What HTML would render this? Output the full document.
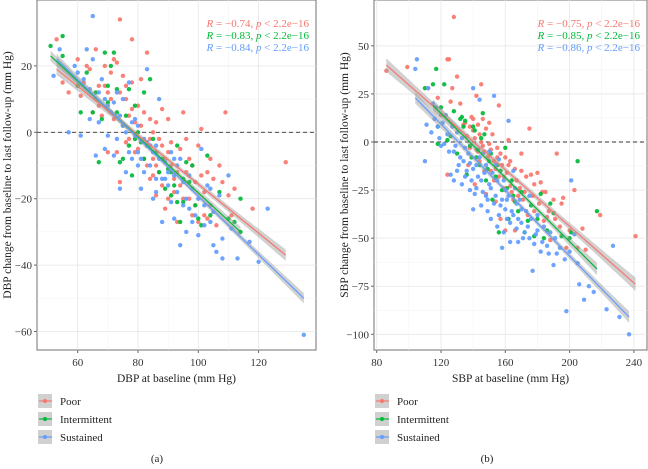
<!DOCTYPE html>
<html><head><meta charset="utf-8"><style>
body{margin:0;background:#fff;width:648px;height:464px;overflow:hidden;font-family:"Liberation Serif",serif}
</style></head><body>
<svg id="s" width="648" height="464" font-family="Liberation Serif, serif"></svg>
<script>
const colors=["#F8766D","#00BA38","#619CFF"];
const groups=["Poor","Intermittent","Sustained"];
const leftTicksX=[60,80,100,120];
const leftTicksY=[20,0,-20,-40,-60];
const rightTicksX=[80,120,160,200,240];
const rightTicksY=[50,25,0,-25,-50,-75,-100];
const leftR=["−0.74","−0.83","−0.84"];
const rightR=["−0.75","−0.85","−0.86"];
const leftLines=[[53,19,129,-37],[51,23,114,-30],[53,22,135,-50]];
const rightLines=[[86,40,241,-74],[115,19,217,-66],[104,23,237,-91]];
const leftPoor=[[53,28],[55,15],[57,12],[60,22],[61,11],[63,20],[64,19],[66,25],[67,14],[68,5],[69,20],[70,-6],[71,10],[72,22],[73,21],[74,34],[74,-15],[75,17],[76,10],[77,5],[78,28],[78,15],[79,3],[80,-5],[81,16],[82,6],[83,24],[84,-2],[85,-8],[86,-19],[86,3],[87,-12],[88,7],[89,-23],[90,4],[91,-10],[92,-14],[93,-27],[94,-5],[95,6],[95,-20],[97,-8],[98,-25],[99,-15],[100,-4],[101,1],[102,-18],[103,-12],[104,-22],[106,-28],[107,-10],[109,6],[110,-19],[111,-25],[112,-17],[118,-23],[129,-9],[76,-3],[83,-10],[88,-4],[92,-18],[96,-12],[70,12],[65,6],[100,-27],[105,-14],[62,15],[67,8],[72,4],[77,-2],[80,8],[85,-13],[90,-6],[97,-20],[74,12],[76,14],[78,7],[79,-6],[81,2],[82,-8],[84,4],[85,0],[86,-10],[87,-2],[88,-16],[89,-8],[90,-20],[91,-3],[93,-12],[94,-16],[96,-2],[98,-10],[99,-22],[101,-13],[102,-25],[103,-26],[104,-8],[108,-15],[73,-6],[71,18],[69,14],[66,10],[84,-14]];
const leftInt=[[51,26],[55,29],[55,23],[60,14],[61,6],[63,18],[65,6],[67,-9],[68,4],[69,24],[70,14],[71,20],[72,24],[73,13],[74,-9],[75,-8],[76,5],[77,13],[78,-13],[79,8],[80,0],[81,-3],[82,12],[83,-4],[84,16],[86,-6],[87,-12],[89,-17],[90,-11],[91,-19],[92,-16],[93,-4],[94,-27],[95,-21],[96,-9],[97,-15],[98,-10],[100,-26],[101,-28],[103,-7],[104,-25],[107,-18],[110,-26],[112,-27],[114,-20],[114,-30],[85,-2],[88,-8],[73,6],[75,2],[77,-4],[79,-2],[82,-8],[91,-12],[93,-21],[95,-14],[99,-22],[70,9],[66,12]];
const leftSus=[[52,17],[54,25],[57,0],[59,20],[61,-1],[62,16],[63,25],[64,4],[65,35],[65,22],[66,-7],[67,12],[68,16],[69,-5],[70,-1],[71,6],[72,-7],[73,-2],[74,-17],[75,10],[76,-12],[77,15],[78,3],[79,-1],[80,-6],[81,-17],[82,-2],[83,19],[84,-10],[85,-20],[86,-14],[87,10],[88,-27],[89,-9],[90,-12],[91,-21],[92,-26],[93,-18],[94,-34],[95,-15],[96,-30],[97,-23],[98,-17],[99,-25],[100,-31],[101,-5],[102,-22],[103,-16],[104,-27],[105,-34],[106,-36],[107,-19],[108,-38],[108,-32],[110,-13],[111,-29],[113,-38],[117,-33],[120,-39],[123,-23],[135,-61],[60,18],[72,9],[78,-8],[82,-12],[86,-4],[90,-16],[94,-8],[70,8],[75,2],[80,-10],[84,-4],[88,-14],[92,-8],[96,-20],[73,12],[74,5],[76,0],[77,-6],[79,4],[81,-8],[83,-3],[85,-6],[86,-18],[87,-8],[89,-14],[91,-6],[92,-13],[93,-10],[95,-22],[97,-13],[98,-27],[100,-20],[102,-28],[104,-17],[105,-24],[69,10],[67,3],[64,13],[80,2]];
const rightPoor=[[86,37],[99,39],[112,28],[118,23],[120,14],[124,-17],[124,43],[125,43],[126,21],[127,28],[128,65],[130,34],[132,20],[134,9],[136,3],[138,-3],[140,6],[141,-22],[142,24],[144,-10],[145,30],[146,12],[147,-5],[148,-27],[150,-1],[151,-15],[152,4],[153,-20],[154,-31],[155,-8],[156,19],[157,-40],[158,-12],[159,-18],[160,-46],[162,1],[163,-23],[165,-30],[166,-46],[168,-28],[170,-15],[172,-26],[174,-38],[175,7],[176,-17],[178,-36],[180,-16],[182,-21],[184,-41],[186,-39],[188,-51],[190,-30],[192,-6],[194,-44],[196,-29],[198,-55],[203,-25],[205,-55],[208,-45],[210,-56],[219,-38],[241,-49],[135,10],[143,-5],[150,10],[160,-8],[167,-20],[185,-26],[140,12],[145,0],[155,-3],[162,-12],[170,-6],[178,-22],[138,8],[139,13],[141,2],[142,-4],[143,9],[144,4],[146,-2],[148,7],[149,-8],[151,-4],[153,-10],[154,-14],[156,-18],[157,-6],[159,-24],[161,-16],[163,-10],[164,-26],[166,-14],[169,-24],[171,-30],[173,-18],[177,-28],[181,-32],[183,-26],[187,-36],[191,-40],[195,-32],[200,-46],[137,-12],[147,-15]];
const rightInt=[[110,28],[115,30],[117,38],[118,-1],[118,8],[120,18],[122,30],[124,1],[126,3],[128,16],[130,-6],[132,12],[134,8],[136,-17],[138,-2],[140,8],[142,-8],[144,-12],[146,15],[147,4],[148,-20],[150,-10],[152,-30],[154,-18],[156,-47],[158,-25],[160,-3],[162,-40],[164,-20],[166,-31],[168,-36],[170,-26],[172,-47],[174,-41],[176,-33],[178,-49],[180,-40],[182,-27],[184,-50],[186,-46],[188,-32],[190,-37],[195,-49],[200,-50],[201,-47],[205,-10],[217,-36],[145,2],[155,-12],[133,13],[135,11],[139,-8],[141,6],[143,-4],[149,-14],[151,-6],[157,-15],[161,-24],[165,-28]];
const rightSus=[[104,38],[105,43],[110,-10],[111,9],[112,28],[114,5],[116,12],[117,18],[119,2],[120,-2],[122,-1],[123,14],[125,-5],[126,-17],[128,-20],[130,5],[132,-8],[133,-22],[135,-3],[136,-15],[138,-11],[140,28],[141,-27],[143,-18],[144,22],[145,-33],[146,-6],[148,-12],[149,-36],[150,-22],[151,-40],[152,-16],[153,24],[154,-28],[155,-44],[156,-9],[157,-33],[158,-55],[159,-47],[160,-25],[161,-40],[162,11],[163,-52],[164,-36],[166,-24],[167,-45],[168,-52],[169,-30],[170,-42],[172,-47],[173,-36],[175,-50],[177,-67],[178,-53],[180,-46],[182,-57],[184,-44],[186,-54],[188,-47],[190,-64],[192,-58],[194,-55],[197,-61],[198,-88],[200,-57],[201,-20],[203,-48],[205,-63],[209,-82],[212,-75],[215,-78],[223,-87],[227,-54],[231,-91],[237,-100],[206,-74],[130,-15],[138,-25],[145,-20],[150,-5],[165,-15],[175,-28],[140,-35],[160,-35],[128,-5],[134,-10],[142,-12],[148,-28],[155,-20],[162,-28],[170,-35],[180,-38],[124,4],[127,8],[129,-2],[131,-12],[133,2],[135,-18],[137,-6],[139,-20],[140,-14],[142,-24],[144,-8],[146,-26],[147,-16],[149,-30],[151,-24],[153,-32],[154,-12],[156,-38],[158,-30],[159,-20],[161,-30],[163,-42],[165,-38],[167,-32],[168,-40],[171,-50],[174,-44],[176,-40],[179,-48],[183,-52],[187,-58],[191,-50],[121,10],[118,8],[115,20]];

const svg=document.getElementById('s');
const NS="http://www.w3.org/2000/svg";
function mk(tag,attrs,parent){const e=document.createElementNS(NS,tag);for(const k in attrs)e.setAttribute(k,attrs[k]);(parent||svg).appendChild(e);return e;}

function panel(p){
  const g=mk('g',{});
  
  
  const X=v=>p.x0+(v-p.xv0)*p.xs, Y=v=>p.y0-(v-p.yv0)*p.ys;
  mk('rect',{x:p.L,y:0,width:p.R-p.L,height:350,fill:'#fff',stroke:'#888','stroke-width':1.2},g);
  const xt=p.xt, yt=p.yt;
  for(let i=0;i<xt.length;i++){const x=X(xt[i]);mk('line',{x1:x,x2:x,y1:0,y2:350,stroke:'#e6e6e6','stroke-width':0.8},g);
    if(i<xt.length-1){const xm=X((xt[i]+xt[i+1])/2);mk('line',{x1:xm,x2:xm,y1:0,y2:350,stroke:'#f2f2f2','stroke-width':0.5},g);}
    const t=mk('text',{x:x,y:366,'text-anchor':'middle','font-size':11,fill:'#333'},g);t.textContent=xt[i];
    
    mk('line',{x1:x,x2:x,y1:350,y2:353,stroke:'#666'},g);}
  for(let i=0;i<yt.length;i++){const y=Y(yt[i]);mk('line',{x1:p.L,x2:p.R,y1:y,y2:y,stroke:'#e6e6e6','stroke-width':0.8},g);
    if(i<yt.length-1){const ym=Y((yt[i]+yt[i+1])/2);mk('line',{x1:p.L,x2:p.R,y1:ym,y2:ym,stroke:'#f2f2f2','stroke-width':0.5},g);}
    const t=mk('text',{x:p.L-5,y:y+4,'text-anchor':'end','font-size':11,fill:'#333'},g);t.textContent=String(yt[i]).replace('-','−');
    
    mk('line',{x1:p.L-3,x2:p.L,y1:y,y2:y,stroke:'#666'},g);}
  const zl=mk('line',{x1:p.L,x2:p.R,y1:Y(0),y2:Y(0),stroke:'#333','stroke-dasharray':'4,3','stroke-width':0.9},g);
  
  p.series.forEach((ser,si)=>{ser.forEach(d=>{
    const c=mk('circle',{cx:X(d[0]),cy:Y(d[1]),r:2.2,fill:colors[si],opacity:0.92},g);
    
    
  });});
  p.lines.forEach((l,si)=>{
    const [xa,ya,xb,yb]=l, xm=(xa+xb)/2, hr=(xb-xa)/2;
    const top=[],bot=[];
    for(let k=0;k<=20;k++){const xv=xa+(xb-xa)*k/20, yv=ya+(yb-ya)*k/20;
      const u=(xv-xm)/hr; const hw=p.bw[si]*(0.3+0.7*u*u)+1.2;
      top.push(X(xv)+','+(Y(yv)-hw)); bot.unshift(X(xv)+','+(Y(yv)+hw));}
    const b=mk('polygon',{points:top.concat(bot).join(' '),fill:'#999',opacity:0.45},g);
    
    
  });
  p.lines.forEach((l,si)=>{
    const ln=mk('line',{x1:X(l[0]),y1:Y(l[1]),x2:X(l[2]),y2:Y(l[3]),stroke:colors[si],'stroke-width':1.2},g);
    
    
  });
  p.r.forEach((r,si)=>{
    const t=mk('text',{x:p.R-7,y:27+si*12,'text-anchor':'end','font-size':11,fill:colors[si]},g);
    t.innerHTML='<tspan font-style="italic">R</tspan> = '+r+', <tspan font-style="italic">p</tspan> &lt; 2.2e−16';
    
    
  });
  const xtit=mk('text',{x:(p.L+p.R)/2,y:382,'text-anchor':'middle','font-size':11.5,fill:'#222'},g);
  xtit.textContent=p.xtitle;
  const ytit=mk('text',{x:0,y:0,'text-anchor':'middle','font-size':11.5,fill:'#222',transform:`translate(${p.L-26},175) rotate(-90)`},g);
  ytit.textContent=p.ytitle;
  groups.forEach((gname,si)=>{
    const y=401+si*18;
    const k=mk('g',{},g);
    mk('rect',{x:p.L+1,y:y-7,width:14,height:14,fill:'#d0d0d0'},k);
    mk('line',{x1:p.L+2,x2:p.L+15,y1:y,y2:y,stroke:colors[si],'stroke-width':1.2},k);
    mk('circle',{cx:p.L+8,cy:y,r:2,fill:colors[si]},k);
    const t=mk('text',{x:p.L+23,y:y+4,'font-size':11,fill:'#222'},k);t.textContent=gname;
  });
  const cap=mk('text',{x:p.cap,y:462,'text-anchor':'middle','font-size':11,fill:'#222'},g);
  cap.textContent=p.capt;
}
panel({name:'dbp-panel',L:37,R:316,x0:77.7,xv0:60,xs:3.015,y0:132.3,yv0:0,ys:3.32,xt:leftTicksX,yt:leftTicksY,
  series:[leftPoor,leftInt,leftSus],lines:leftLines,bw:[4.5,4,4],r:leftR,
  xtitle:'DBP at baseline (mm Hg)',ytitle:'DBP change from baseline to last follow-up (mm Hg)',cap:157,capt:'(a)'});
panel({name:'sbp-panel',L:374,R:647,x0:376.7,xv0:80,xs:1.6075,y0:142,yv0:0,ys:1.923,xt:rightTicksX,yt:rightTicksY,
  series:[rightPoor,rightInt,rightSus],lines:rightLines,bw:[5.5,5,4.5],r:rightR,
  xtitle:'SBP at baseline (mm Hg)',ytitle:'SBP change from baseline to last follow-up (mm Hg)',cap:487,capt:'(b)'});
</script>
</body></html>
